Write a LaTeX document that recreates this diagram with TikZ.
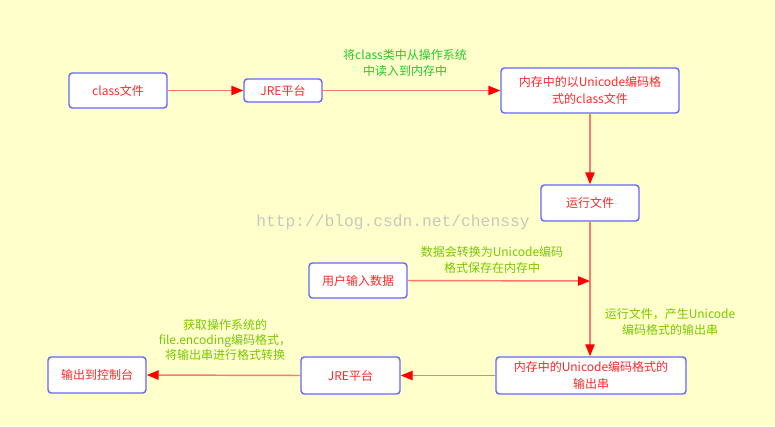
\documentclass[tikz,border=0pt]{standalone}
\usepackage{fontspec}
\setmainfont{Noto Sans CJK SC}
\newfontfamily\markfont{Liberation Mono}
\usetikzlibrary{arrows.meta}
\definecolor{pPaper}{RGB}{255,255,204}
\definecolor{pEdge}{RGB}{102,102,255}
\definecolor{pText}{RGB}{255,40,40}
\definecolor{pLine}{RGB}{255,120,110}
\definecolor{pGreen}{RGB}{40,200,40}
\definecolor{pLime}{RGB}{120,200,0}
\definecolor{pMark}{RGB}{200,200,190}

\tikzset{
    box/.style={draw=pEdge, line width=1.1pt, fill=white, rounded corners=2.5pt,
        text=pText, align=center, inner sep=1pt, font=\fontsize{9}{13}\selectfont},
    flow/.style={draw=pLine, line width=1.1pt, -{Triangle[length=9pt,width=7pt,color=red]}},
    note/.style={align=center, font=\fontsize{9}{12.5}\selectfont}
}

\begin{document}
\begin{tikzpicture}[x=0.75pt,y=-0.75pt]
    % Background
    \fill[pPaper] (0,0) rectangle (775,426);
    \useasboundingbox (0,0) rectangle (775,426);

    % Watermark
    \node[pMark, anchor=west, inner sep=0pt, font=\markfont\fontsize{12.2}{14}\selectfont] (mark) at (256,222) {http://blog.csdn.net/chenssy};

    % Upper row
    \node[box, minimum width=73.5pt, minimum height=26.25pt] (cls) at (118,90.5) {class文件};
    \node[box, minimum width=58.5pt, minimum height=17.25pt] (jreA) at (283,90.5) {JRE平台};
    \node[box, minimum width=133.5pt, minimum height=33.75pt] (memA) at (590,90.5) {内存中的以Unicode编码格\\式的class文件};

    % Middle
    \node[box, minimum width=73.5pt, minimum height=27pt] (run) at (590,203) {运行文件};
    \node[box, minimum width=73.5pt, minimum height=26.25pt] (user) at (358,280.5) {用户输入数据};
    \coordinate (join) at (590,281);

    % Lower row
    \node[box, minimum width=142.5pt, minimum height=27.75pt] (memB) at (591,375.5) {内存中的Unicode编码格式的\\输出串};
    \node[box, minimum width=74.25pt, minimum height=27.75pt] (jreB) at (350.5,375.5) {JRE平台};
    \node[box, minimum width=73.5pt, minimum height=27pt] (out) at (97,375) {输出到控制台};

    % Connectors
    \draw[flow] (cls.east) -- (jreA.west);
    \draw[flow] (jreA.east) -- (memA.west);
    \draw[flow] (memA.south) -- (run.north);
    \draw[flow] (run.south) -- (run.south |- memB.north);
    \draw[flow] (user.east) -- (join);
    \draw[flow] (memB.west) -- (jreB.east);
    \draw[flow] (jreB.west) -- (out.east);

    % Labels
    \node[note, pGreen] (lblRead) at (405,63) {将class类中从操作系统\\中读入到内存中};
    \node[note, pLime] (lblConv) at (492,260) {数据会转换为Unicode编码\\格式保存在内存中};
    \node[note, pLime] (lblRun) at (670,322) {运行文件，产生Unicode\\编码格式的输出串};
    \node[note, pLime, font=\fontsize{9}{11.5}\selectfont] (lblEnc) at (225,340) {获取操作系统的\\file.encoding编码格式，\\将输出串进行格式转换};
\end{tikzpicture}
\end{document}
